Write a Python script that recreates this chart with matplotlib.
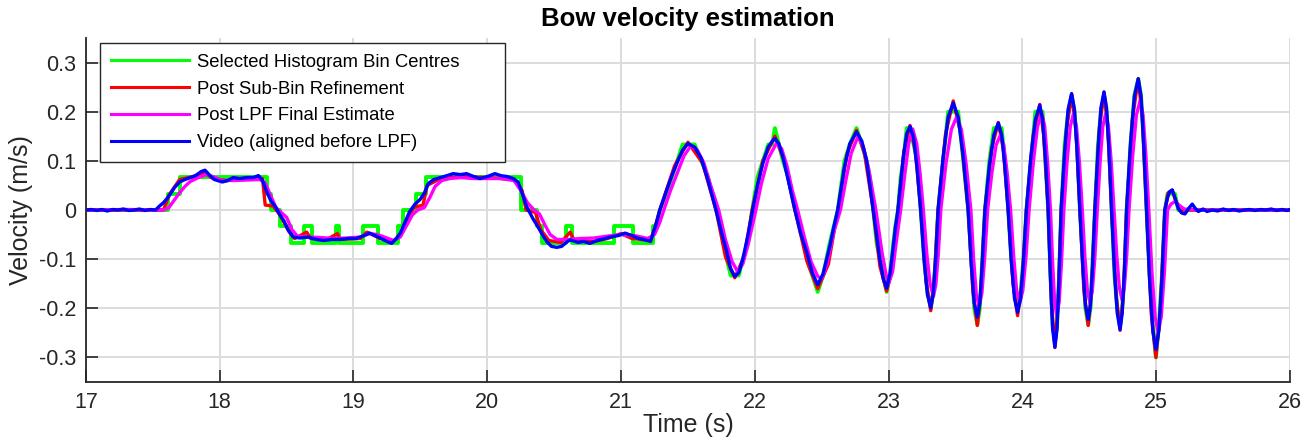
import matplotlib
matplotlib.use("Agg")
import matplotlib.pyplot as plt

# Video reference (blue)
t_video = [
    17.00, 17.04, 17.08, 17.12, 17.16, 17.20, 17.24, 17.28, 17.32, 17.36, 17.40, 17.44, 17.48, 17.52,
    17.55, 17.58, 17.62, 17.66, 17.70, 17.74, 17.78, 17.82, 17.86, 17.89,
    17.92, 17.96, 18.02, 18.06, 18.10, 18.15, 18.20, 18.25, 18.29, 18.32,
    18.35, 18.38, 18.42, 18.45, 18.48, 18.51, 18.55, 18.60, 18.66, 18.72,
    18.78, 18.84, 18.90, 18.96, 19.02, 19.08, 19.12, 19.16, 19.20, 19.25,
    19.285, 19.32, 19.35, 19.39, 19.42, 19.46, 19.50, 19.53, 19.56, 19.60,
    19.65, 19.70, 19.745, 19.80, 19.845, 19.90, 19.945, 20.00, 20.057, 20.10,
    20.15, 20.194, 20.23, 20.26, 20.294, 20.34, 20.38, 20.42, 20.45, 20.48,
    20.52, 20.556, 20.60, 20.62, 20.68, 20.72, 20.767, 20.82, 20.867, 20.92,
    20.98, 21.03, 21.08, 21.12, 21.17, 21.22,
    21.26, 21.29, 21.34, 21.38, 21.42, 21.46, 21.50, 21.55, 21.60, 21.65,
    21.71, 21.75, 21.79, 21.82, 21.85, 21.88, 21.91, 21.95, 21.98, 22.02,
    22.06, 22.10, 22.13, 22.15, 22.18, 22.21, 22.25, 22.30, 22.34, 22.39,
    22.43, 22.47, 22.51, 22.56, 22.59, 22.62, 22.67, 22.71, 22.76, 22.80,
    22.835, 22.86, 22.885, 22.91, 22.935, 22.96, 22.985, 23.01, 23.035, 23.05,
    23.07, 23.09, 23.11, 23.135, 23.16,
    23.187, 23.213, 23.24, 23.265, 23.29, 23.315, 23.333, 23.352, 23.37, 23.408,
    23.445, 23.483, 23.52, 23.558, 23.595, 23.618, 23.64, 23.663, 23.682, 23.70,
    23.72, 23.753, 23.787, 23.82, 23.845, 23.869, 23.894, 23.917, 23.941, 23.964,
    23.986, 24.008, 24.03, 24.063, 24.097, 24.13, 24.151, 24.172, 24.193, 24.21,
    24.226, 24.243, 24.259, 24.274, 24.29, 24.316, 24.342, 24.368, 24.389, 24.409,
    24.43, 24.451, 24.471, 24.492, 24.509, 24.525, 24.542, 24.565, 24.587, 24.61,
    24.629, 24.648, 24.667, 24.688, 24.709, 24.73, 24.746, 24.763, 24.779, 24.808,
    24.837, 24.866, 24.887, 24.907, 24.928, 24.951, 24.975, 24.998, 25.02, 25.043,
    25.065, 25.085, 25.10, 25.12, 25.14, 25.165, 25.19, 25.215, 25.245, 25.27,
    25.29, 25.315,
    25.35, 25.38, 25.42, 25.46, 25.50, 25.54, 25.58, 25.62, 25.66, 25.70,
    25.74, 25.78, 25.82, 25.86, 25.90, 25.94, 25.98, 26.00,
]
v_video = [
    0.000, 0.001, -0.001, 0.001, -0.002, 0.001, 0.000, 0.002, -0.001, 0.000, 0.002, -0.001, 0.001, 0.000,
    0.008, 0.015, 0.028, 0.045, 0.057, 0.062, 0.066, 0.070, 0.078, 0.081,
    0.072, 0.062, 0.057, 0.060, 0.066, 0.064, 0.066, 0.066, 0.070, 0.060,
    0.038, 0.020, 0.005, -0.010, -0.022, -0.040, -0.055, -0.057, -0.055, -0.060,
    -0.062, -0.060, -0.060, -0.058, -0.058, -0.052, -0.047, -0.052, -0.057, -0.064,
    -0.068, -0.058, -0.047, -0.022, -0.003, 0.012, 0.022, 0.035, 0.054, 0.062,
    0.066, 0.070, 0.074, 0.072, 0.074, 0.068, 0.064, 0.068, 0.074, 0.070,
    0.068, 0.064, 0.057, 0.035, 0.007, -0.017, -0.035, -0.054, -0.066, -0.074,
    -0.076, -0.074, -0.064, -0.061, -0.066, -0.064, -0.068, -0.062, -0.059, -0.055,
    -0.052, -0.047, -0.052, -0.057, -0.060, -0.064,
    -0.030, 0.000, 0.040, 0.070, 0.097, 0.122, 0.135, 0.128, 0.105, 0.060,
    0.000, -0.045, -0.085, -0.120, -0.135, -0.128, -0.100, -0.050, -0.005, 0.050,
    0.095, 0.128, 0.140, 0.145, 0.135, 0.108, 0.060, 0.000, -0.045, -0.088,
    -0.128, -0.152, -0.130, -0.074, -0.035, 0.000, 0.088, 0.135, 0.159, 0.140,
    0.101, 0.050, 0.000, -0.050, -0.101, -0.140, -0.159, -0.130, -0.074, -0.037,
    0.000, 0.055, 0.108, 0.155, 0.170,
    0.147, 0.085, 0.000, -0.100, -0.172, -0.199, -0.172, -0.100, 0.000, 0.109,
    0.189, 0.218, 0.189, 0.109, 0.000, -0.109, -0.189, -0.218, -0.189, -0.109,
    0.000, 0.089, 0.153, 0.177, 0.153, 0.089, 0.000, -0.104, -0.180, -0.208,
    -0.180, -0.104, 0.000, 0.107, 0.184, 0.213, 0.184, 0.107, 0.000, -0.140,
    -0.242, -0.279, -0.242, -0.140, 0.000, 0.119, 0.205, 0.237, 0.205, 0.119,
    0.000, -0.112, -0.193, -0.223, -0.193, -0.112, 0.000, 0.120, 0.208, 0.240,
    0.208, 0.120, 0.000, -0.122, -0.210, -0.243, -0.210, -0.122, 0.000, 0.134,
    0.231, 0.267, 0.231, 0.134, 0.000, -0.142, -0.246, -0.284, -0.246, -0.142,
    0.000, 0.025, 0.037, 0.041, 0.025, 0.003, -0.006, -0.008, 0.004, 0.012,
    0.004, -0.003,
    0.002, -0.003, 0.000, -0.002, 0.002, -0.001, 0.001, -0.002, 0.000, 0.001,
    -0.001, 0.001, 0.000, 0.002, -0.001, 0.001, -0.001, 0.001,
]

# Post LPF final estimate (magenta)
t_lpf = [
    17.00, 17.30, 17.58, 17.62, 17.66, 17.70, 17.74, 17.78, 17.84, 17.90,
    17.95, 18.02, 18.10, 18.20, 18.30, 18.34, 18.38, 18.42, 18.46, 18.50,
    18.54, 18.58, 18.65, 18.75, 18.85, 18.95, 19.05, 19.12, 19.18, 19.25,
    19.30, 19.35, 19.40, 19.44, 19.48, 19.53, 19.57, 19.61, 19.66, 19.72,
    19.80, 19.90, 20.00, 20.10, 20.20, 20.25, 20.30, 20.35, 20.39, 20.43,
    20.47, 20.52, 20.60, 20.70, 20.80, 20.90, 21.00, 21.10, 21.20, 21.25,
    21.29, 21.32, 21.37, 21.42, 21.47, 21.52, 21.57, 21.62, 21.67, 21.73,
    21.78, 21.83, 21.87, 21.91, 21.95, 22.00, 22.05, 22.10, 22.16, 22.20,
    22.24, 22.28, 22.32, 22.37, 22.42, 22.47, 22.50, 22.54, 22.59, 22.64,
    22.68, 22.72, 22.77, 22.81, 22.85, 22.905, 22.95, 22.98, 23.00, 23.03,
    23.055, 23.09, 23.12, 23.15, 23.18, 23.21, 23.235, 23.26, 23.285, 23.31,
    23.335, 23.353, 23.372, 23.39, 23.429, 23.469, 23.508, 23.544, 23.579, 23.615,
    23.635, 23.655, 23.675, 23.697, 23.718, 23.74, 23.772, 23.803, 23.835, 23.861,
    23.886, 23.912, 23.935, 23.957, 23.98, 24.003, 24.027, 24.05, 24.082, 24.113,
    24.145, 24.167, 24.188, 24.21, 24.226, 24.241, 24.257, 24.275, 24.292, 24.31,
    24.334, 24.358, 24.382, 24.404, 24.426, 24.448, 24.467, 24.486, 24.505, 24.523,
    24.542, 24.56, 24.581, 24.601, 24.622, 24.643, 24.664, 24.685, 24.705, 24.725,
    24.745, 24.762, 24.78, 24.797, 24.825, 24.852, 24.88, 24.902, 24.923, 24.945,
    24.968, 24.992, 25.015, 25.038, 25.062, 25.085, 25.11, 25.14, 25.17, 25.21,
    25.30, 26.00,
]
v_lpf = [
    0.000, 0.001, 0.000, 0.005, 0.020, 0.035, 0.048, 0.058, 0.066, 0.072,
    0.068, 0.060, 0.060, 0.061, 0.062, 0.055, 0.030, 0.005, -0.005, -0.015,
    -0.040, -0.053, -0.055, -0.056, -0.058, -0.057, -0.055, -0.048, -0.050, -0.057,
    -0.062, -0.055, -0.030, -0.010, 0.000, 0.005, 0.025, 0.048, 0.060, 0.064,
    0.066, 0.064, 0.064, 0.064, 0.060, 0.040, 0.015, 0.000, -0.008, -0.030,
    -0.050, -0.060, -0.060, -0.058, -0.057, -0.053, -0.050, -0.052, -0.058, -0.050,
    -0.025, 0.000, 0.040, 0.075, 0.110, 0.130, 0.122, 0.095, 0.050, 0.000,
    -0.060, -0.105, -0.125, -0.110, -0.070, -0.010, 0.055, 0.105, 0.135, 0.125,
    0.090, 0.040, 0.000, -0.055, -0.105, -0.135, -0.140, -0.110, -0.045, 0.000,
    0.060, 0.115, 0.149, 0.130, 0.085, 0.000, -0.085, -0.130, -0.150, -0.125,
    -0.070, 0.000, 0.070, 0.135, 0.165, 0.135, 0.075, 0.000, -0.088, -0.150,
    -0.176, -0.152, -0.088, 0.000, 0.095, 0.164, 0.189, 0.164, 0.095, 0.000,
    -0.098, -0.170, -0.196, -0.170, -0.098, 0.000, 0.076, 0.132, 0.152, 0.132,
    0.076, 0.000, -0.095, -0.164, -0.189, -0.164, -0.095, 0.000, 0.098, 0.170,
    0.196, 0.170, 0.098, 0.000, -0.108, -0.187, -0.216, -0.187, -0.108, 0.000,
    0.098, 0.170, 0.196, 0.170, 0.098, 0.000, -0.095, -0.164, -0.189, -0.164,
    -0.095, 0.000, 0.098, 0.170, 0.196, 0.170, 0.098, 0.000, -0.092, -0.158,
    -0.183, -0.158, -0.092, 0.000, 0.112, 0.193, 0.223, 0.193, 0.112, 0.000,
    -0.125, -0.217, -0.250, -0.217, -0.125, 0.000, 0.012, 0.017, 0.010, 0.002,
    0.000, 0.000,
]

# Post sub-bin refinement (red)
t_refined = [
    17.00, 17.58, 17.62, 17.70, 17.80, 17.88, 17.95, 18.05, 18.20, 18.32,
    18.34, 18.40, 18.45, 18.52, 18.56, 18.65, 18.68, 18.80, 18.88, 18.90,
    19.05, 19.10, 19.20, 19.29, 19.35, 19.40, 19.45, 19.52, 19.55, 19.65,
    19.80, 20.00, 20.20, 20.26, 20.29, 20.36, 20.40, 20.46, 20.55, 20.62,
    20.65, 20.80, 20.90, 21.00, 21.08, 21.22, 21.26,
    21.29, 21.40, 21.50, 21.61, 21.71, 21.78, 21.85, 21.92, 21.98, 22.06,
    22.15, 22.22, 22.30, 22.39, 22.47, 22.55, 22.62, 22.69, 22.76, 22.82,
    22.885, 22.935, 22.985, 23.03, 23.07, 23.115, 23.16, 23.20, 23.24, 23.28,
    23.315, 23.34, 23.37, 23.426, 23.483, 23.54, 23.595, 23.63, 23.663, 23.69,
    23.72, 23.77, 23.82, 23.857, 23.894, 23.93, 23.964, 23.997, 24.03, 24.08,
    24.13, 24.16, 24.193, 24.218, 24.243, 24.266, 24.29, 24.33, 24.368, 24.40,
    24.43, 24.46, 24.492, 24.517, 24.542, 24.576, 24.61, 24.638, 24.667, 24.70,
    24.73, 24.755, 24.779, 24.823, 24.866, 24.897, 24.928, 24.963, 24.998, 25.03,
    25.065, 25.09, 25.12, 25.15, 25.20, 26.00,
]
v_refined = [
    0.000, 0.000, 0.030, 0.062, 0.068, 0.076, 0.064, 0.060, 0.064, 0.064,
    0.010, 0.008, -0.010, -0.045, -0.058, -0.045, -0.058, -0.060, -0.048, -0.060,
    -0.058, -0.045, -0.058, -0.066, -0.050, -0.020, 0.005, 0.010, 0.050, 0.064,
    0.068, 0.066, 0.062, 0.040, 0.000, -0.005, -0.040, -0.062, -0.066, -0.045,
    -0.062, -0.064, -0.058, -0.048, -0.058, -0.062, -0.030,
    0.000, 0.090, 0.138, 0.095, 0.000, -0.095, -0.138, -0.095, 0.000, 0.100,
    0.150, 0.100, 0.000, -0.105, -0.160, -0.110, 0.000, 0.115, 0.162, 0.115,
    0.000, -0.115, -0.165, -0.115, 0.000, 0.120, 0.172, 0.120, 0.000, -0.145,
    -0.205, -0.145, 0.000, 0.155, 0.222, 0.155, 0.000, -0.165, -0.235, -0.165,
    0.000, 0.125, 0.178, 0.125, 0.000, -0.150, -0.215, -0.150, 0.000, 0.150,
    0.215, 0.150, 0.000, -0.195, -0.280, -0.195, 0.000, 0.165, 0.235, 0.165,
    0.000, -0.165, -0.235, -0.165, 0.000, 0.168, 0.240, 0.168, 0.000, -0.172,
    -0.245, -0.172, 0.000, 0.187, 0.267, 0.187, 0.000, -0.210, -0.300, -0.210,
    0.000, 0.035, 0.040, 0.015, 0.000, 0.000,
]

# Selected histogram bin centres (green), in bins of 1/30 m/s
BIN_WIDTH = 1 / 30
# slow section: times where the selected bin changes
t_bins_flat = [
    17.00, 17.615, 17.70, 18.35, 18.38, 18.45, 18.53, 18.63, 18.69, 18.87,
    18.89, 19.07, 19.18, 19.33, 19.37, 19.47, 19.54, 20.25, 20.37, 20.41,
    20.59, 20.63, 20.95, 21.09, 21.24, 21.26,
]
bins_flat = [
    0, 1, 2, 1, 0, -1, -2, -1, -2, -1,
    -2, -1, -2, -1, 0, 1, 2, 0, -1, -2,
    -1, -2, -1, -2, -1, -1,
]
# oscillating section: bin picked at each video sample from 21.26 s on
bins_osc = [
    -1, 0, 1, 2, 3, 4, 4, 4, 3, 2,
    0, -1, -3, -4, -4, -4, -3, -2, 0, 2,
    3, 4, 4, 5, 4, 3, 2, 0, -1, -3,
    -4, -5, -4, -2, -1, 0, 3, 4, 5, 4,
    3, 2, 0, -2, -3, -4, -5, -4, -2, -1,
    0, 2, 3, 5, 5,
    4, 3, 0, -3, -5, -6, -5, -3, 0, 3,
    6, 6, 6, 3, 0, -3, -6, -7, -6, -3,
    0, 3, 5, 5, 5, 3, 0, -3, -5, -6,
    -5, -3, 0, 3, 6, 6, 6, 3, 0, -4,
    -7, -8, -7, -4, 0, 4, 6, 7, 6, 4,
    0, -3, -6, -7, -6, -3, 0, 4, 6, 7,
    6, 4, 0, -4, -6, -7, -6, -4, 0, 4,
    7, 8, 7, 4, 0, -4, -7, -9, -7, -4,
    0, 1, 1, 1, 1, 0, 0, 0, 0, 0,
    0, 0,
    0, 0, 0, 0, 0, 0, 0, 0, 0, 0,
    0, 0, 0, 0, 0, 0, 0, 0,
]

GREEN = "#00ff00"
RED = "#ff0000"
MAGENTA = "#ff00ff"
BLUE = "#0000ff"
DARK = "#262626"

plt.rcParams["font.family"] = ["Liberation Sans", "DejaVu Sans"]

fig = plt.figure(figsize=(13.14, 4.45), dpi=100)
ax = fig.add_axes([0.0654, 0.1416, 0.9163, 0.773])

i0 = t_video.index(21.26)
t_osc = t_video[i0:]

ax.plot(t_bins_flat, [b * BIN_WIDTH for b in bins_flat], color=GREEN, lw=2.8,
        drawstyle="steps-post", label="Selected Histogram Bin Centres")
ax.plot(t_osc, [b * BIN_WIDTH for b in bins_osc], color=GREEN, lw=2.8)
ax.plot(t_refined, v_refined, color=RED, lw=2.4, label="Post Sub-Bin Refinement")
ax.plot(t_lpf, v_lpf, color=MAGENTA, lw=2.4, label="Post LPF Final Estimate")
ax.plot(t_video, v_video, color=BLUE, lw=2.4, label="Video (aligned before LPF)")

ax.set_xlim(17, 26)
ax.set_ylim(-0.35, 0.35)
ax.set_xticks(range(17, 27))
ax.set_yticks([-0.3, -0.2, -0.1, 0, 0.1, 0.2, 0.3])
ax.set_yticklabels(["-0.3", "-0.2", "-0.1", "0", "0.1", "0.2", "0.3"])

ax.grid(True, color="#dcdcdc", lw=1.4)
ax.set_axisbelow(True)
for side in ("top", "right"):
    ax.spines[side].set_visible(False)
for side in ("left", "bottom"):
    ax.spines[side].set_color(DARK)
    ax.spines[side].set_linewidth(1.3)
ax.tick_params(direction="in", length=8.5, width=1.2, colors=DARK,
               labelsize=15.5, pad=7)

ax.set_xlabel("Time (s)", fontsize=18, color=DARK, labelpad=0)
ax.set_ylabel("Velocity (m/s)", fontsize=18, color=DARK, labelpad=4)
ax.set_title("Bow velocity estimation", fontsize=18.5, fontweight="bold",
             color="black", pad=9)

leg = ax.legend(loc="upper left", bbox_to_anchor=(0.012, 0.645, 0.336, 0.341),
                mode="expand", fontsize=13.3,
                frameon=True, fancybox=False, framealpha=1, edgecolor=DARK,
                handlelength=4.2, handletextpad=0.45, labelspacing=0.53,
                borderpad=0.6, borderaxespad=0)
leg.get_frame().set_linewidth(1.0)
for line in leg.get_lines():
    line.set_linewidth(2.2)

fig.savefig("out.png", dpi=100)
